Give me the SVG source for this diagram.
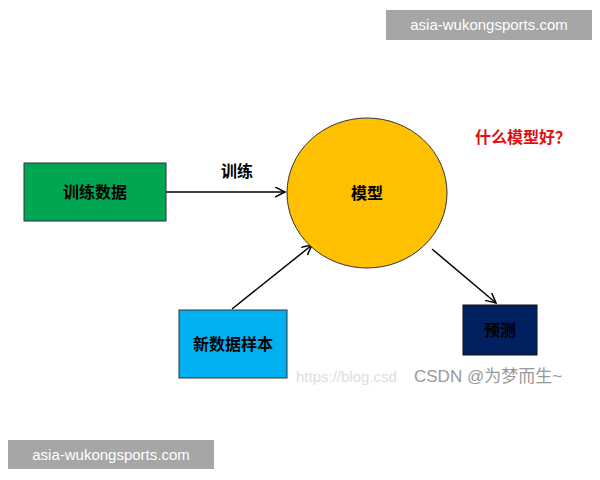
<svg xmlns="http://www.w3.org/2000/svg" width="600" height="480" viewBox="0 0 600 480">
<style>
text{font-family:"Liberation Sans","Noto Sans CJK SC",sans-serif}
.lbl{font-size:16px;font-weight:bold;text-anchor:middle;fill:#000}
.c{stroke:#000;stroke-width:1.5;fill:none;marker-end:url(#a)}
.wm{font-size:15px;fill:#fff;text-anchor:middle}
</style>
<defs><marker id="a" markerWidth="12" markerHeight="12" refX="10" refY="5" orient="auto" markerUnits="userSpaceOnUse"><path d="M0,0 L10,5 L0,10" fill="none" stroke="#000" stroke-width="1.5"/></marker></defs>
<rect width="600" height="480" fill="#fff"/>
<g id="connectors">
<line class="c" x1="166" y1="192" x2="285" y2="192"/>
<line class="c" x1="232" y1="309" x2="312" y2="245"/>
<line class="c" x1="432" y1="249" x2="496" y2="303"/>
<text class="lbl" x="237" y="177">训练</text>
</g>
<g id="train"><rect x="24" y="163" width="142" height="58" fill="#00a651" stroke="#333"/><text class="lbl" x="95" y="198">训练数据</text></g>
<g id="model"><ellipse cx="367" cy="193" rx="80" ry="75" fill="#ffc000" stroke="#333"/><text class="lbl" x="367" y="199">模型</text></g>
<g id="newdata"><rect x="179" y="310" width="108" height="68" fill="#00b0f0" stroke="#333"/><text class="lbl" x="233" y="350">新数据样本</text></g>
<g id="predict"><rect x="463" y="305" width="74" height="50" fill="#002060" stroke="#111"/><text class="lbl" x="500" y="336" fill="#111">预测</text></g>
<text x="523" y="143" font-size="16" font-weight="bold" fill="#e01010" text-anchor="middle">什么模型好？</text>
<text x="296" y="382" font-size="15" fill="#ddd">https://blog.csd</text>
<text x="414" y="382" font-size="17" fill="#999">CSDN @为梦而生~</text>
<rect x="386" y="10" width="206" height="30" fill="#a6a6a6"/><text class="wm" x="489" y="30">asia-wukongsports.com</text>
<rect x="8" y="440" width="206" height="29" fill="#a6a6a6"/><text class="wm" x="111" y="460">asia-wukongsports.com</text>
</svg>
